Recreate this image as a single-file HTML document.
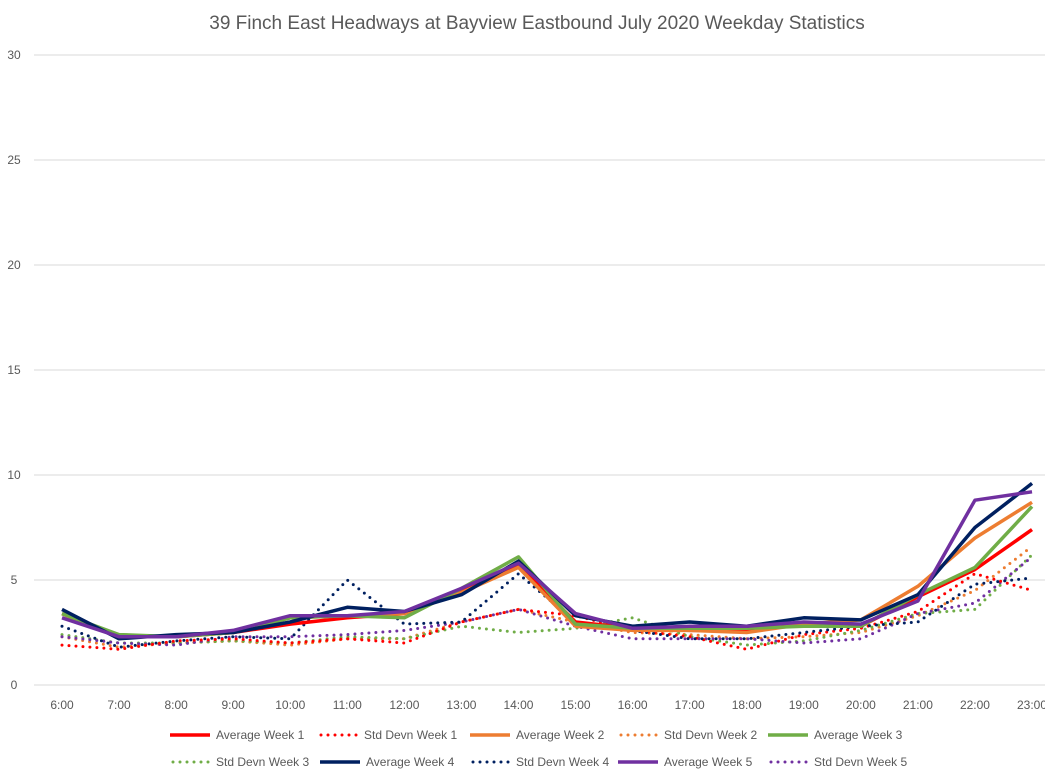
<!DOCTYPE html>
<html><head><meta charset="utf-8"><style>
body{margin:0;background:#fff;font-family:"Liberation Sans",sans-serif;}
</style></head><body>
<svg id="s" width="1045" height="776" xmlns="http://www.w3.org/2000/svg" font-family="Liberation Sans, sans-serif">
<rect width="1045" height="776" fill="#fff"/>
<text x="537" y="29" text-anchor="middle" font-size="19" fill="#595959">39 Finch East Headways at Bayview Eastbound July 2020 Weekday Statistics</text>
</svg>
<script>
const s=document.getElementById('s'),NS='http://www.w3.org/2000/svg';
function el(t,a,txt){const e=document.createElementNS(NS,t);for(const k in a)e.setAttribute(k,a[k]);if(txt!==undefined)e.textContent=txt;s.appendChild(e);return e;}
const X=i=>62+i*57.06,Y=v=>685-v*21;
for(let v=0;v<=30;v+=5){el('line',{x1:34,x2:1045,y1:Y(v),y2:Y(v),stroke:'#d9d9d9','stroke-width':1});
el('text',{x:14,y:Y(v)+4,'text-anchor':'middle','font-size':12,fill:'#595959'},v);}
for(let i=0;i<18;i++)el('text',{x:X(i),y:709,'text-anchor':'middle','font-size':12,fill:'#595959'},(6+i)+':00');
const C={r:'#ff0000',o:'#ed7d31',g:'#70ad47',n:'#002060',p:'#7030a0'};
const S=[
['o',0,[2.3,1.8,2.0,2.1,1.9,2.2,2.2,3.0,3.6,3.0,2.5,2.4,2.2,2.3,2.5,3.3,4.5,6.6]],
['g',0,[2.4,2.0,2.0,2.1,2.0,2.3,2.2,2.8,2.5,2.7,3.2,2.3,1.9,2.1,2.6,3.4,3.6,6.2]],
['p',0,[2.3,2.0,1.9,2.3,2.3,2.4,2.6,3.0,3.6,2.8,2.2,2.2,2.2,2.0,2.2,3.4,3.9,6.1]],
['r',0,[1.9,1.7,2.1,2.2,2.0,2.2,2.0,3.0,3.6,3.3,2.6,2.3,1.7,2.4,2.7,3.5,5.3,4.5]],
['n',0,[2.8,1.8,2.1,2.3,2.2,5.0,2.9,3.0,5.3,3.0,2.6,2.2,2.2,2.5,2.8,3.0,4.8,5.1]],
['r',1,[3.4,2.3,2.3,2.5,2.9,3.2,3.4,4.5,5.7,3.0,2.7,2.6,2.6,2.9,2.8,4.2,5.5,7.4]],
['o',1,[3.4,2.3,2.3,2.5,3.2,3.3,3.4,4.4,5.6,2.8,2.6,2.6,2.5,2.9,3.1,4.7,7.0,8.7]],
['g',1,[3.4,2.4,2.3,2.5,3.2,3.3,3.2,4.6,6.1,2.9,2.7,2.7,2.7,2.8,2.8,4.3,5.6,8.5]],
['n',1,[3.6,2.2,2.4,2.5,3.0,3.7,3.5,4.3,5.9,3.3,2.8,3.0,2.8,3.2,3.1,4.3,7.5,9.6]],
['p',1,[3.2,2.3,2.3,2.6,3.3,3.3,3.5,4.6,5.8,3.4,2.7,2.8,2.8,3.0,2.9,4.0,8.8,9.2]]];
for(const [c,solid,d] of S){const a={points:d.map((v,i)=>X(i)+','+Y(v)).join(' '),fill:'none',stroke:C[c],'stroke-linejoin':'round'};
if(solid)a['stroke-width']=3.5;else{a['stroke-width']=3;a['stroke-dasharray']='0 7';a['stroke-linecap']='round';}
el('polyline',a);}
const L=[[170,735,'r',1,'Average Week 1'],[318,735,'r',0,'Std Devn Week 1'],[470,735,'o',1,'Average Week 2'],[618,735,'o',0,'Std Devn Week 2'],[768,735,'g',1,'Average Week 3'],
[170,762,'g',0,'Std Devn Week 3'],[320,762,'n',1,'Average Week 4'],[470,762,'n',0,'Std Devn Week 4'],[618,762,'p',1,'Average Week 5'],[768,762,'p',0,'Std Devn Week 5']];
for(const [x,y,c,solid,t] of L){const a={x1:x,x2:x+40,y1:y,y2:y,stroke:C[c]};
if(solid)a['stroke-width']=3.5;else{a['stroke-width']=3;a['stroke-dasharray']='0 7';a['stroke-linecap']='round';a.x1=x+3;}
el('line',a);el('text',{x:x+46,y:y+4,'font-size':12,fill:'#595959'},t);}
</script>
</body></html>
